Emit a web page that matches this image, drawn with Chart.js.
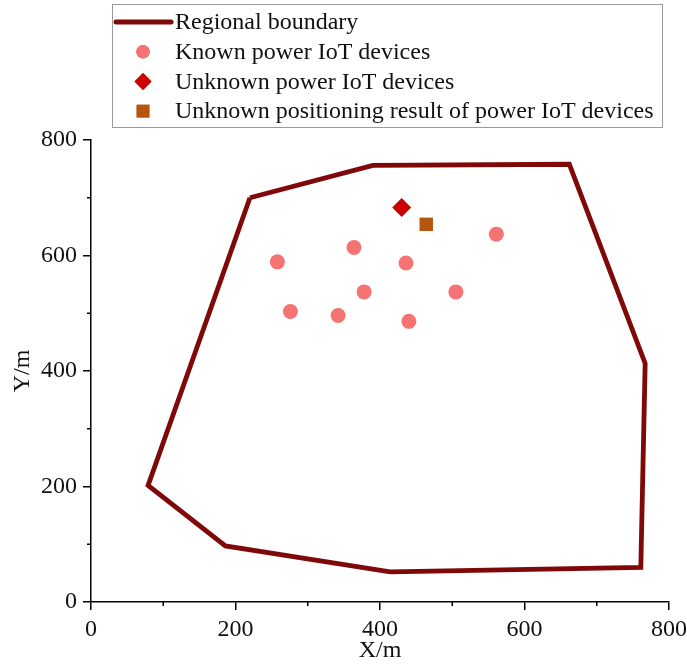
<!DOCTYPE html>
<html>
<head>
<meta charset="utf-8">
<script src="https://cdn.jsdelivr.net/npm/chart.js@4.4.1/dist/chart.umd.min.js"></script>
<style>
  html, body { margin: 0; padding: 0; background: #fff; }
  #wrap { width: 687px; height: 670px; }
</style>
</head>
<body>
<div id="wrap"><canvas id="myChart" width="687" height="670"></canvas></div>
<script>
// regional boundary polygon (closed)
const boundaryX = [220, 390, 662, 767, 761, 414, 186, 79, 220];
const boundaryY = [700, 756, 758, 413, 60, 52, 97, 202, 700];

// known power IoT devices
const knownX = [258, 364, 436, 561, 378, 505, 276, 342, 440];
const knownY = [589, 614, 587, 637, 537, 537, 503, 496, 486];

// unknown device and its positioning result
const unknownX = [430];
const unknownY = [683];
const resultX = [464];
const resultY = [654];

const labels = [
    'Regional boundary',
    'Known power IoT devices',
    'Unknown power IoT devices',
    'Unknown positioning result of power IoT devices'
];

const xTicks = [0, 200, 400, 600, 800];
const yTicks = [0, 200, 400, 600, 800];
const minorTicks = [100, 300, 500, 700];

const FONT = '"Liberation Serif", "Times New Roman", serif';

function pts(xs, ys) {
    return xs.map((x, i) => ({ x: x, y: ys[i] }));
}

// legend drawn in a box, one entry per row
const boxLegend = {
    id: 'boxLegend',
    afterDraw(chart) {
        const c = chart.ctx;
        c.save();
        c.strokeStyle = '#9a9a9a';
        c.lineWidth = 1;
        c.strokeRect(112.5, 4.5, 550, 123);
        c.font = '24px ' + FONT;
        c.fillStyle = '#111';
        c.textBaseline = 'middle';
        chart.data.datasets.forEach((ds, i) => {
            const y = 22 + i * 29.7;
            if (ds.showLine) {
                c.strokeStyle = ds.borderColor;
                c.lineWidth = 5;
                c.lineCap = 'round';
                c.beginPath();
                c.moveTo(116, y);
                c.lineTo(171, y);
                c.stroke();
            } else {
                c.fillStyle = ds.backgroundColor;
                const r = ds.legendRadius;
                Chart.helpers.drawPoint(c, { pointStyle: ds.pointStyle, radius: r, borderWidth: 0 }, 143, y);
                c.fill();
            }
            c.fillStyle = '#111';
            c.fillText(ds.label, 175, y + 1);
        });
        c.restore();
    }
};

// short minor ticks between labelled ticks
const minorTickMarks = {
    id: 'minorTickMarks',
    afterDraw(chart) {
        const c = chart.ctx;
        const xs = chart.scales.x, ys = chart.scales.y;
        c.save();
        c.strokeStyle = '#000';
        c.lineWidth = 1.5;
        minorTicks.forEach(v => {
            const px = xs.getPixelForValue(v);
            c.beginPath();
            c.moveTo(px, xs.top);
            c.lineTo(px, xs.top + 4);
            c.stroke();
            const py = ys.getPixelForValue(v);
            c.beginPath();
            c.moveTo(ys.right, py);
            c.lineTo(ys.right - 4, py);
            c.stroke();
        });
        c.restore();
    }
};

const ctx = document.getElementById('myChart').getContext('2d');
const myChart = new Chart(ctx, {
    type: 'scatter',
    data: {
        datasets: [{
            label: labels[0],
            data: pts(boundaryX, boundaryY),
            showLine: true,
            borderColor: '#7f0808',
            borderWidth: 4.8,
            borderJoinStyle: 'miter',
            pointRadius: 0,
            fill: false
        }, {
            label: labels[1],
            data: pts(knownX, knownY),
            pointStyle: 'circle',
            backgroundColor: '#f57373',
            borderWidth: 0,
            pointRadius: 7.5,
            legendRadius: 6.8
        }, {
            label: labels[2],
            data: pts(unknownX, unknownY),
            pointStyle: 'rectRot',
            backgroundColor: '#cc0000',
            borderWidth: 0,
            pointRadius: 9.5,
            legendRadius: 8.5
        }, {
            label: labels[3],
            data: pts(resultX, resultY),
            pointStyle: 'rect',
            backgroundColor: '#b5560e',
            borderWidth: 0,
            pointRadius: 9.5,
            legendRadius: 9
        }]
    },
    options: {
        responsive: false,
        animation: false,
        layout: {
            padding: { top: 140, right: 18, bottom: 0, left: 0 }
        },
        plugins: {
            legend: { display: false },
            tooltip: { enabled: false }
        },
        scales: {
            x: {
                type: 'linear',
                min: 0,
                max: 800,
                afterFit(scale) {
                    scale.height = 68;
                    scale.paddingLeft = 0;
                    scale.paddingRight = 0;
                },
                afterBuildTicks(scale) { scale.ticks = xTicks.map(v => ({ value: v })); },
                border: { display: true, color: '#000', width: 1.5 },
                grid: { drawOnChartArea: false, drawTicks: true, tickLength: 8, color: '#000', lineWidth: 1.5 },
                ticks: { font: { family: FONT, size: 24 }, color: '#111', padding: 5, maxRotation: 0 },
                title: { display: true, text: 'X/m', font: { family: FONT, size: 24 }, color: '#111', padding: { top: 0, bottom: 5 } }
            },
            y: {
                type: 'linear',
                min: 0,
                max: 800,
                afterFit(scale) {
                    scale.width = 91;
                    scale.paddingTop = 0;
                    scale.paddingBottom = 0;
                },
                afterBuildTicks(scale) { scale.ticks = yTicks.map(v => ({ value: v })); },
                border: { display: true, color: '#000', width: 1.5 },
                grid: { drawOnChartArea: false, drawTicks: true, tickLength: 8, color: '#000', lineWidth: 1.5 },
                ticks: { font: { family: FONT, size: 24 }, color: '#111', padding: 6 },
                title: { display: true, text: 'Y/m', font: { family: FONT, size: 24 }, color: '#111', padding: { top: 8, bottom: 0 } }
            }
        }
    },
    plugins: [boxLegend, minorTickMarks]
});
</script>
</body>
</html>
